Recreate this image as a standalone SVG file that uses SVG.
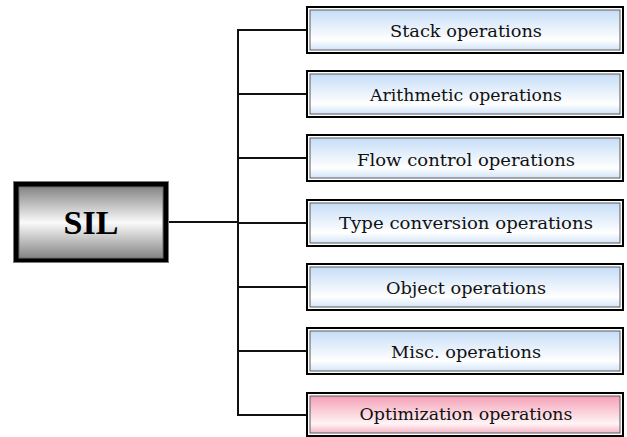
<svg xmlns="http://www.w3.org/2000/svg" width="627" height="437" viewBox="0 0 627 437">
  <defs>
    <linearGradient id="gSil" x1="0" y1="0" x2="0" y2="1">
      <stop offset="0" stop-color="#858585"/>
      <stop offset="0.5" stop-color="#fafafa"/>
      <stop offset="1" stop-color="#858585"/>
    </linearGradient>
    <linearGradient id="gBlue" x1="0" y1="0" x2="0" y2="1">
      <stop offset="0" stop-color="#c6ddf7"/>
      <stop offset="0.75" stop-color="#ffffff"/>
      <stop offset="1" stop-color="#d2e4f8"/>
    </linearGradient>
    <linearGradient id="gPink" x1="0" y1="0" x2="0" y2="1">
      <stop offset="0" stop-color="#f4a0b6"/>
      <stop offset="0.75" stop-color="#fff4f6"/>
      <stop offset="1" stop-color="#f6b6c6"/>
    </linearGradient>
  </defs>
  <style>
    .frame { fill: #ffffff; stroke: #000000; stroke-width: 2; }
    .face { stroke: #5a5a5a; stroke-width: 1; }
    .blue { fill: url(#gBlue); }
    .pink { fill: url(#gPink); }
    .label { font-family: "DejaVu Serif", "Liberation Serif", serif; font-size: 17px; fill: #111111; text-anchor: middle; }
    .wire { fill: none; stroke: #111111; stroke-width: 2; }
  </style>
  <rect width="627" height="437" fill="#ffffff"/>

  <g id="connectors">
    <path class="wire" d="M169 222 H238"/>
    <path class="wire" d="M307 30 H238 V415 H307"/>
    <path class="wire" d="M238 94 H307"/>
    <path class="wire" d="M238 158 H307"/>
    <path class="wire" d="M238 223 H307"/>
    <path class="wire" d="M238 287 H307"/>
    <path class="wire" d="M238 351 H307"/>
  </g>

  <g id="sil">
    <rect x="13" y="181" width="156" height="82" fill="#7a7a7a"/>
    <rect x="14" y="182" width="154" height="80" fill="#000000"/>
    <rect x="19" y="187" width="144" height="71" fill="url(#gSil)" stroke="#6a6a6a" stroke-width="1"/>
    <text x="91" y="234" font-family="'Liberation Serif', serif" font-weight="bold" font-size="34" text-anchor="middle" fill="#000000">SIL</text>
  </g>

  <g id="stack">
    <rect class="frame" x="307" y="7" width="316" height="46"/>
    <rect class="face blue" x="310" y="10" width="310" height="40"/>
    <text class="label" x="466" y="37" textLength="152" lengthAdjust="spacingAndGlyphs">Stack operations</text>
  </g>
  <g id="arithmetic">
    <rect class="frame" x="307" y="71" width="316" height="46"/>
    <rect class="face blue" x="310" y="74" width="310" height="40"/>
    <text class="label" x="466" y="101" textLength="192" lengthAdjust="spacingAndGlyphs">Arithmetic operations</text>
  </g>
  <g id="flow">
    <rect class="frame" x="307" y="135" width="316" height="46"/>
    <rect class="face blue" x="310" y="138" width="310" height="40"/>
    <text class="label" x="466" y="166" textLength="218" lengthAdjust="spacingAndGlyphs">Flow control operations</text>
  </g>
  <g id="typeconv">
    <rect class="frame" x="307" y="200" width="316" height="46"/>
    <rect class="face blue" x="310" y="203" width="310" height="40"/>
    <text class="label" x="466" y="229" textLength="254" lengthAdjust="spacingAndGlyphs">Type conversion operations</text>
  </g>
  <g id="object">
    <rect class="frame" x="307" y="264" width="316" height="46"/>
    <rect class="face blue" x="310" y="267" width="310" height="40"/>
    <text class="label" x="466" y="294" textLength="160" lengthAdjust="spacingAndGlyphs">Object operations</text>
  </g>
  <g id="misc">
    <rect class="frame" x="307" y="328" width="316" height="46" stroke-width="3"/>
    <rect class="face blue" x="310" y="331" width="310" height="40"/>
    <text class="label" x="466" y="358" textLength="150" lengthAdjust="spacingAndGlyphs">Misc. operations</text>
  </g>
  <g id="optimization">
    <rect class="frame" x="307" y="393" width="316" height="43"/>
    <rect class="face pink" x="310" y="396" width="310" height="37"/>
    <text class="label" x="466" y="420" textLength="213" lengthAdjust="spacingAndGlyphs">Optimization operations</text>
  </g>
</svg>
